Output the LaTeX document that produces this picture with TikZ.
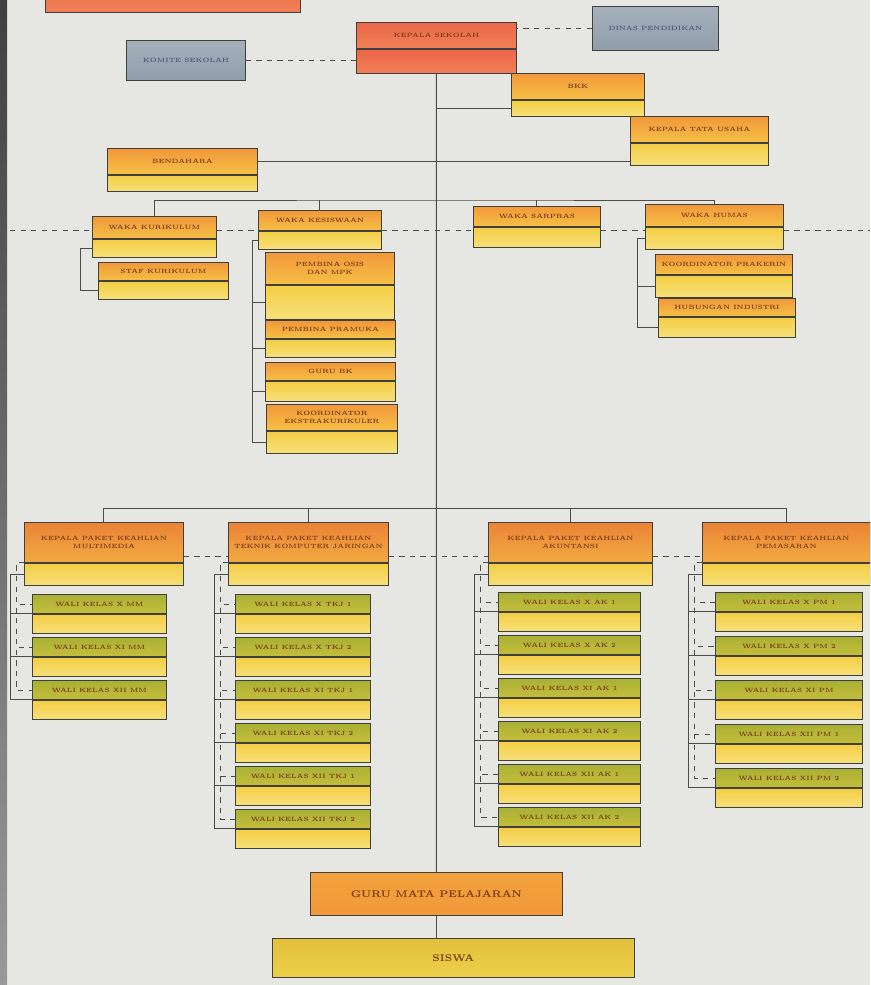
\documentclass[tikz,border=0pt]{standalone}
\usepackage{tikz}
\usetikzlibrary{positioning, calc}

\definecolor{kertas}{HTML}{E6E6E3}
\definecolor{teks}{HTML}{7A3A18}
\definecolor{teksabu}{HTML}{4A5A80}
\definecolor{oranyeA}{HTML}{F2983A}
\definecolor{oranyeB}{HTML}{F6C046}
\definecolor{tuaA}{HTML}{EA8236}
\definecolor{tuaB}{HTML}{F3AA42}
\definecolor{kuningA}{HTML}{F4CE44}
\definecolor{kuningB}{HTML}{F7E07A}
\definecolor{merahA}{HTML}{EC6648}
\definecolor{merahB}{HTML}{F08056}
\definecolor{abuA}{HTML}{A5B0BB}
\definecolor{abuB}{HTML}{909DAA}
\definecolor{hijauA}{HTML}{A8B034}
\definecolor{hijauB}{HTML}{C6BE3C}
\definecolor{siswaA}{HTML}{E2C03A}
\definecolor{siswaB}{HTML}{EDD04C}

\begin{document}
\begin{tikzpicture}[x=0.02cm, y=-0.02cm, node distance=0pt]
		\tikzstyle{kotak} = [draw=black!75, line width=0.5pt, rectangle, inner sep=1pt, align=center, text=teks, font=\fontsize{3.5}{4.3}\selectfont\bfseries]
		\tikzstyle{oranye} = [kotak, top color=oranyeA, bottom color=oranyeB]
		\tikzstyle{tua} = [kotak, top color=tuaA, bottom color=tuaB]
		\tikzstyle{kuning} = [kotak, top color=kuningA, bottom color=kuningB]
		\tikzstyle{merah} = [kotak, top color=merahA, bottom color=merahB]
		\tikzstyle{abu} = [kotak, top color=abuA, bottom color=abuB, text=teksabu]
		\tikzstyle{hijau} = [kotak, top color=hijauA, bottom color=hijauB]
		\tikzstyle{garis} = [draw=black!70, line width=0.5pt]
		\tikzstyle{putus} = [garis, dashed]
		
		\useasboundingbox (0,0) rectangle (870,985);
		\clip (0,0) rectangle (870,985);
		\fill[kertas] (0,0) rectangle (870,985);
		\shade[top color=black!75, bottom color=black!40] (0,0) rectangle (7,985);
		
		% puncak
		\node[merah, anchor=north west, minimum width=5.1cm, minimum height=0.74cm] at (45,-25) (judul) {};
		\node[abu, anchor=north west, minimum width=2.38cm, minimum height=0.8cm] at (126,40) (komite) {KOMITE SEKOLAH};
		\node[merah, anchor=north west, minimum width=3.2cm, minimum height=0.52cm] at (356,22) (ks) {KEPALA SEKOLAH};
		\node[merah, below=of ks, minimum width=3.2cm, minimum height=0.48cm] (ksn) {};
		\node[abu, anchor=north west, minimum width=2.52cm, minimum height=0.88cm] at (592,6) (dinas) {DINAS PENDIDIKAN};
		\node[oranye, anchor=north west, minimum width=2.66cm, minimum height=0.52cm] at (511,73) (bkk) {BKK};
		\node[kuning, below=of bkk, minimum width=2.66cm, minimum height=0.32cm] (bkkn) {};
		\node[oranye, anchor=north west, minimum width=2.76cm, minimum height=0.52cm] at (630,116) (tu) {KEPALA TATA USAHA};
		\node[kuning, below=of tu, minimum width=2.76cm, minimum height=0.44cm] (tun) {};
		\node[oranye, anchor=north west, minimum width=3.0cm, minimum height=0.52cm] at (107,148) (bend) {BENDAHARA};
		\node[kuning, below=of bend, minimum width=3.0cm, minimum height=0.32cm] (bendn) {};
		
		% wakil kepala sekolah
		\node[oranye, anchor=north west, minimum width=2.48cm, minimum height=0.44cm] at (92,216) (w1) {WAKA KURIKULUM};
		\node[kuning, below=of w1, minimum width=2.48cm, minimum height=0.36cm] (w1n) {};
		\node[oranye, anchor=north west, minimum width=2.46cm, minimum height=0.40cm] at (258,210) (w2) {WAKA KESISWAAN};
		\node[kuning, below=of w2, minimum width=2.46cm, minimum height=0.36cm] (w2n) {};
		\node[oranye, anchor=north west, minimum width=2.54cm, minimum height=0.40cm] at (473,206) (w3) {WAKA SARPRAS};
		\node[kuning, below=of w3, minimum width=2.54cm, minimum height=0.40cm] (w3n) {};
		\node[oranye, anchor=north west, minimum width=2.76cm, minimum height=0.44cm] at (645,204) (w4) {WAKA HUMAS};
		\node[kuning, below=of w4, minimum width=2.76cm, minimum height=0.44cm] (w4n) {};
		
		\node[oranye, anchor=north west, minimum width=2.6cm, minimum height=0.36cm] at (98,262) (w1a1) {STAF KURIKULUM};
		\node[kuning, below=of w1a1, minimum width=2.6cm, minimum height=0.36cm] (w1b1) {};
		
		\node[oranye, anchor=north west, minimum width=2.58cm, minimum height=0.64cm] at (265,252) (w2a1) {PEMBINA OSIS\\DAN MPK};
		\node[kuning, below=of w2a1, minimum width=2.58cm, minimum height=0.68cm] (w2b1) {};
		\node[oranye, anchor=north west, minimum width=2.6cm, minimum height=0.36cm] at (265,320) (w2a2) {PEMBINA PRAMUKA};
		\node[kuning, below=of w2a2, minimum width=2.6cm, minimum height=0.36cm] (w2b2) {};
		\node[oranye, anchor=north west, minimum width=2.6cm, minimum height=0.36cm] at (265,362) (w2a3) {GURU BK};
		\node[kuning, below=of w2a3, minimum width=2.6cm, minimum height=0.40cm] (w2b3) {};
		\node[oranye, anchor=north west, minimum width=2.62cm, minimum height=0.52cm] at (266,404) (w2a4) {KOORDINATOR\\EKSTRAKURIKULER};
		\node[kuning, below=of w2a4, minimum width=2.62cm, minimum height=0.44cm] (w2b4) {};
		
		\node[oranye, anchor=north west, minimum width=2.74cm, minimum height=0.40cm] at (655,254) (w4a1) {KOORDINATOR PRAKERIN};
		\node[kuning, below=of w4a1, minimum width=2.74cm, minimum height=0.44cm] (w4b1) {};
		\node[oranye, anchor=north west, minimum width=2.74cm, minimum height=0.36cm] at (658,298) (w4a2) {HUBUNGAN INDUSTRI};
		\node[kuning, below=of w4a2, minimum width=2.74cm, minimum height=0.40cm] (w4b2) {};
		
		% paket keahlian
		\node[tua, anchor=north west, minimum width=3.18cm, minimum height=0.80cm] at (24,522) (k1) {KEPALA PAKET KEAHLIAN\\MULTIMEDIA};
		\node[kuning, below=of k1, minimum width=3.18cm, minimum height=0.44cm] (k1n) {};
		\node[tua, anchor=north west, minimum width=3.2cm, minimum height=0.80cm] at (228,522) (k2) {KEPALA PAKET KEAHLIAN\\TEKNIK KOMPUTER JARINGAN};
		\node[kuning, below=of k2, minimum width=3.2cm, minimum height=0.44cm] (k2n) {};
		\node[tua, anchor=north west, minimum width=3.28cm, minimum height=0.80cm] at (488,522) (k3) {KEPALA PAKET KEAHLIAN\\AKUNTANSI};
		\node[kuning, below=of k3, minimum width=3.28cm, minimum height=0.44cm] (k3n) {};
		\node[tua, anchor=north west, minimum width=3.36cm, minimum height=0.80cm] at (702,522) (k4) {KEPALA PAKET KEAHLIAN\\PEMASARAN};
		\node[kuning, below=of k4, minimum width=3.36cm, minimum height=0.44cm] (k4n) {};
		
		% wali kelas
		\foreach \i/\y/\t in {1/594/X MM, 2/637/XI MM, 3/680/XII MM} {
			\node[hijau, anchor=north west, minimum width=2.68cm, minimum height=0.38cm] at (32,\y) (k1a\i) {WALI KELAS \t};
			\node[kuning, below=of k1a\i, minimum width=2.68cm, minimum height=0.38cm] (k1b\i) {};
		}
		\foreach \i/\y/\t in {1/594/X TKJ 1, 2/637/X TKJ 2, 3/680/XI TKJ 1, 4/723/XI TKJ 2, 5/766/XII TKJ 1, 6/809/XII TKJ 2} {
			\node[hijau, anchor=north west, minimum width=2.7cm, minimum height=0.38cm] at (235,\y) (k2a\i) {WALI KELAS \t};
			\node[kuning, below=of k2a\i, minimum width=2.7cm, minimum height=0.38cm] (k2b\i) {};
		}
		\foreach \i/\y/\t in {1/592/X AK 1, 2/635/X AK 2, 3/678/XI AK 1, 4/721/XI AK 2, 5/764/XII AK 1, 6/807/XII AK 2} {
			\node[hijau, anchor=north west, minimum width=2.84cm, minimum height=0.38cm] at (498,\y) (k3a\i) {WALI KELAS \t};
			\node[kuning, below=of k3a\i, minimum width=2.84cm, minimum height=0.38cm] (k3b\i) {};
		}
		\foreach \i/\y/\t in {1/592/X PM 1, 2/636/X PM 2, 3/680/XI PM, 4/724/XII PM 1, 5/768/XII PM 2} {
			\node[hijau, anchor=north west, minimum width=2.94cm, minimum height=0.38cm] at (715,\y) (k4a\i) {WALI KELAS \t};
			\node[kuning, below=of k4a\i, minimum width=2.94cm, minimum height=0.38cm] (k4b\i) {};
		}
		
		% guru dan siswa
		\node[oranye, anchor=north west, minimum width=5.04cm, minimum height=0.86cm, top color=oranyeA!80!kuningA, bottom color=oranyeA, font=\fontsize{5.5}{6}\selectfont\bfseries] at (310,872) (guru) {GURU MATA PELAJARAN};
		\node[kotak, anchor=north west, minimum width=7.24cm, minimum height=0.78cm, top color=siswaA, bottom color=siswaB, font=\fontsize{5.5}{6}\selectfont\bfseries] at (272,938) (siswa) {SISWA};
		
		\coordinate (kiri) at (10,230);
		\coordinate (kanan) at (870,230);
		\coordinate (busw) at (436,200);
		\coordinate (busk) at (436,508);
		\coordinate (garisk) at (436,556);
		
		% garis komando
		\path[garis]
		(ksn.south)	edge	(guru.north)
		(guru.south)	edge	(guru.south |- siswa.north)
		(bkkn.west)	edge	(bkkn.west -| ksn.south)
		(bend.east)	edge	(bend.east -| tu.west);
		\draw[putus] (komite.east) -- (komite.east -| ks.west);
		\draw[putus] (dinas.west) -- (dinas.west -| ks.east);
		
		\draw[garis] (w1.north) |- (busw) -| (w4.north);
		\draw[garis] (w2.north) -- (w2.north |- busw);
		\draw[garis] (w3.north) -- (w3.north |- busw);
		\draw[putus] (kiri) -- (kiri -| w1.west) (w1.east |- kiri) -- (w2.west |- kiri) (w2.east |- kiri) -- (w3.west |- kiri) (w3.east |- kiri) -- (w4.west |- kiri) (w4.east |- kiri) -- (kanan);
		
		\draw[garis] (w1n.west) -- ++(-12,0) |- (w1b1.west);
		\foreach \s in {1,...,4}
			\draw[garis] (w2n.west) -- ++(-6,0) |- (w2b\s.west);
		\foreach \s in {1,2}
			\draw[garis] (w4n.west) -- ++(-8,0) |- (w4b\s.west);
		
		\draw[garis] (k1.north) |- (busk) -| (k4.north);
		\draw[garis] (k2.north) -- (k2.north |- busk);
		\draw[garis] (k3.north) -- (k3.north |- busk);
		\draw[putus] (k1.east |- garisk) -- (k2.west |- garisk) (k2.east |- garisk) -- (k3.west |- garisk) (k3.east |- garisk) -- (k4.west |- garisk);
		
		\foreach \p/\n in {1/3, 2/6, 3/6, 4/5} {
			\foreach \i in {1,...,\n} {
				\draw[garis] (k\p n.west) -- ++(-14,0) |- (k\p a\i.south west);
				\draw[putus] (k\p.south west) -- ++(-8,0) |- (k\p a\i.west);
			}
		}
\end{tikzpicture}
\end{document}
